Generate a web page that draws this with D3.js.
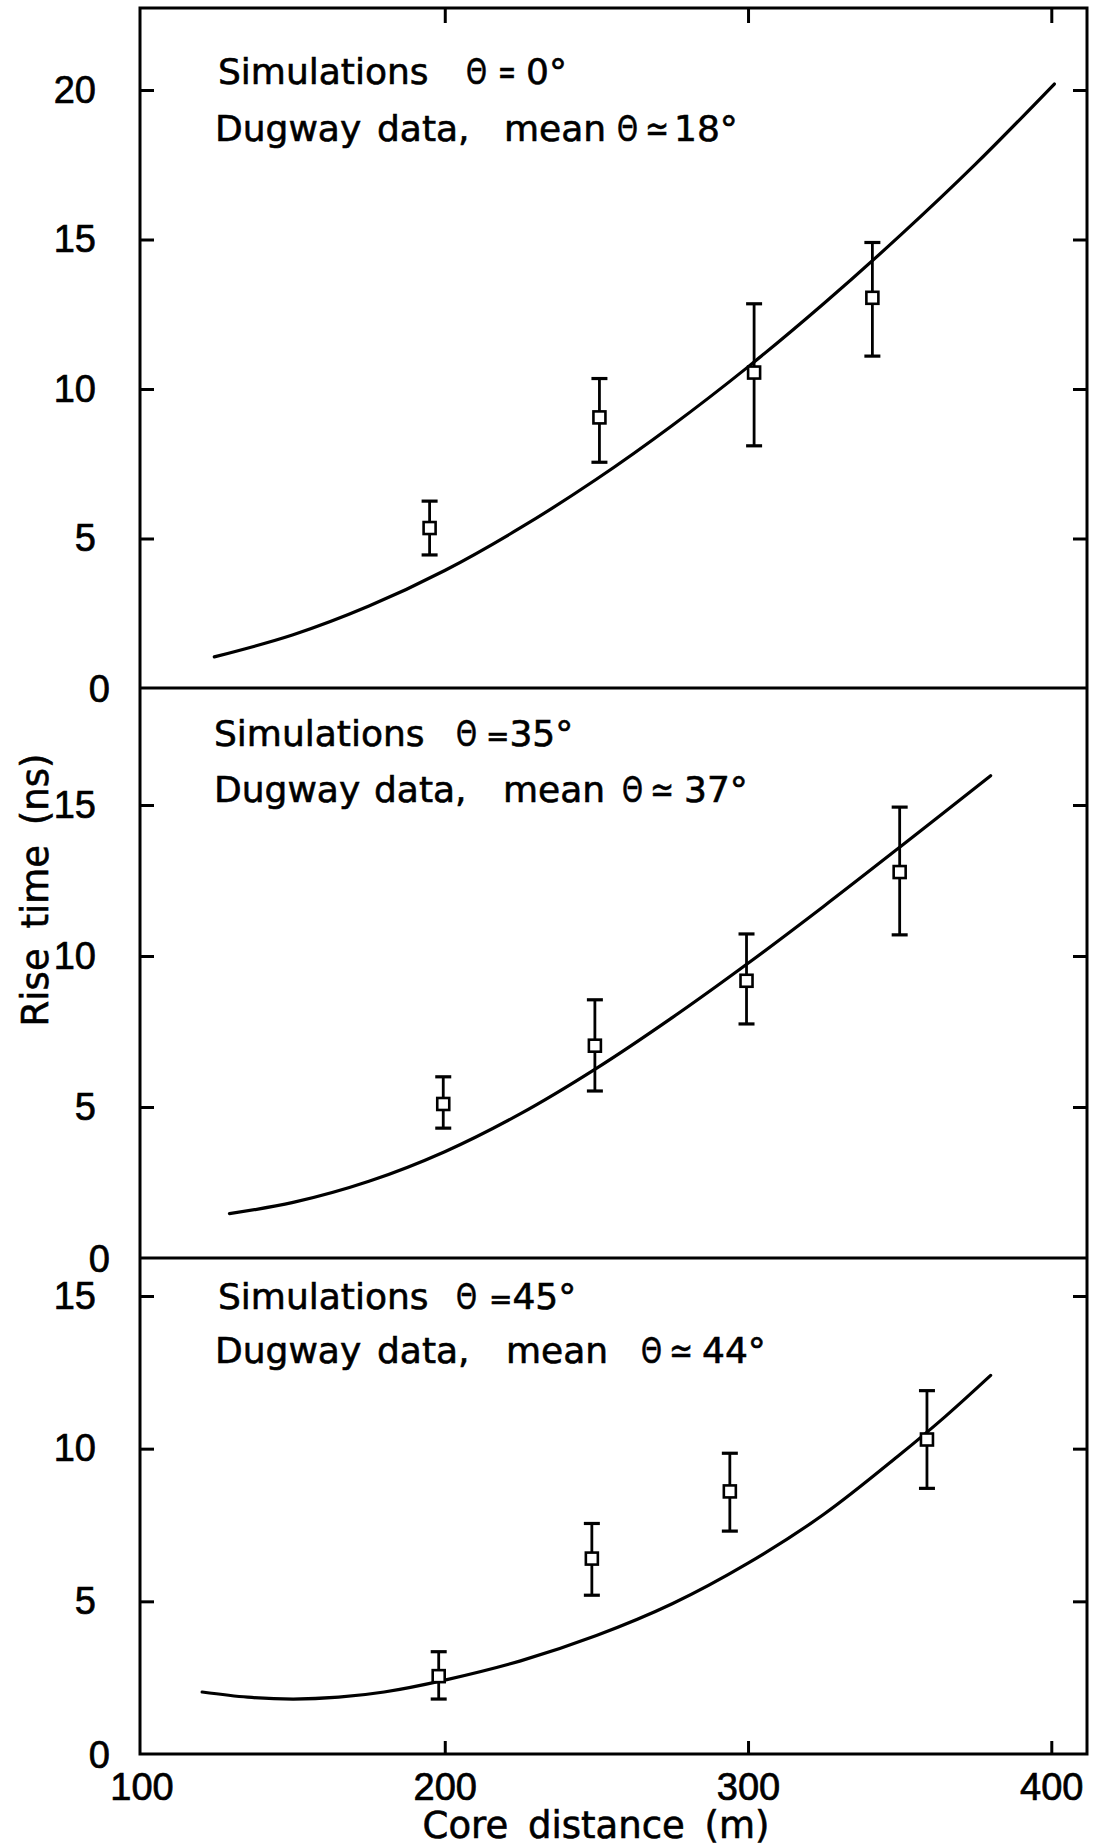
<!DOCTYPE html>
<html>
<head>
<meta charset="utf-8">
<script src="https://cdn.jsdelivr.net/npm/d3@7"></script>
<style>
  html, body { margin: 0; padding: 0; background: #fff; }
  svg { display: block; }
</style>
</head>
<body>
<svg id="chart" width="1103" height="1846"></svg>
<script>
// Core-distance axis
const xTicks = [100, 200, 300, 400];

// Panel 1: simulations at theta = 0 deg, Dugway data mean theta ~ 18 deg
const p1Dist = [195, 251, 302, 341];
const p1Rise = [5.35, 9.05, 10.55, 13.05];
const p1Low  = [4.45, 7.55, 8.1, 11.1];
const p1High = [6.25, 10.35, 12.85, 14.9];
const p1SimDist = [124, 150, 175, 200, 225, 250, 275, 300, 325, 350, 375, 401];
const p1SimRise = [1.04, 1.78, 2.74, 3.93, 5.36, 6.98, 8.78, 10.74, 12.86, 15.12, 17.52, 20.2];
const p1Ticks = [5, 10, 15, 20];

// Panel 2: simulations at theta = 35 deg, Dugway data mean theta ~ 37 deg
const p2Dist = [199.5, 249.5, 299.5, 350];
const p2Rise = [5.1, 7.03, 9.18, 12.78];
const p2Low  = [4.3, 5.53, 7.75, 10.7];
const p2High = [6.0, 8.55, 10.73, 14.93];
const p2SimDist = [129, 150, 175, 200, 225, 250, 275, 300, 325, 350, 380];
const p2SimRise = [1.47, 1.84, 2.54, 3.52, 4.78, 6.28, 7.96, 9.76, 11.65, 13.6, 15.97];
const p2Ticks = [5, 10, 15];

// Panel 3: simulations at theta = 45 deg, Dugway data mean theta ~ 44 deg
const p3Dist = [198, 248.5, 294, 359];
const p3Rise = [2.55, 6.4, 8.6, 10.3];
const p3Low  = [1.8, 5.2, 7.3, 8.7];
const p3High = [3.35, 7.55, 9.85, 11.9];
const p3SimDist = [120, 135, 150, 165, 180, 200, 225, 250, 275, 300, 325, 350, 365, 380];
const p3SimRise = [2.03, 1.86, 1.8, 1.86, 2.03, 2.42, 3.05, 3.88, 4.92, 6.25, 7.85, 9.8, 11.05, 12.4];
const p3Ticks = [5, 10, 15];

const labelFont = "'DejaVu Sans', sans-serif";
const tickFont = "'Liberation Sans', Arial, sans-serif";

const svg = d3.select("#chart");
svg.append("rect").attr("width", 1103).attr("height", 1846).attr("fill", "#fff");

const frameLeft = 140, frameRight = 1087;
const x = d3.scaleLinear().domain([100, 400]).range([141.5, 1051.3]);

// annotation pieces: [text, x, baseline, squeezed width or 0]
const panels = [
  { y: d3.scaleLinear().domain([0, 20]).range([688, 90]),
    dist: p1Dist, rise: p1Rise, low: p1Low, high: p1High,
    simDist: p1SimDist, simRise: p1SimRise, ticks: p1Ticks,
    notes: [["Simulations", 218, 84, 0], ["Θ", 466, 84, 21], ["=", 498, 84, 18], ["0°", 526, 84, 0],
            ["Dugway", 215, 141, 0], ["data,", 377, 141, 0], ["mean", 504, 141, 0],
            ["Θ", 617, 141, 21], ["≃", 645, 141, 24], ["18°", 674, 141, 0]] },
  { y: d3.scaleLinear().domain([0, 15]).range([1258, 805]),
    dist: p2Dist, rise: p2Rise, low: p2Low, high: p2High,
    simDist: p2SimDist, simRise: p2SimRise, ticks: p2Ticks,
    notes: [["Simulations", 214, 746, 0], ["Θ", 456, 746, 21], ["=|35°", 486, 746, 0],
            ["Dugway", 214, 802, 0], ["data,", 374, 802, 0], ["mean", 503, 802, 0],
            ["Θ", 622, 802, 21], ["≃", 650, 802, 24], ["37°", 684, 802, 0]] },
  { y: d3.scaleLinear().domain([0, 15]).range([1754, 1296]),
    dist: p3Dist, rise: p3Rise, low: p3Low, high: p3High,
    simDist: p3SimDist, simRise: p3SimRise, ticks: p3Ticks,
    notes: [["Simulations", 218, 1309, 0], ["Θ", 456, 1309, 21], ["=|45°", 489, 1309, 0],
            ["Dugway", 215, 1363, 0], ["data,", 377, 1363, 0], ["mean", 506, 1363, 0],
            ["Θ", 641, 1363, 21], ["≃", 669, 1363, 24], ["44°", 702, 1363, 0]] }
];

const ink = "#000";

panels.forEach(p => {
  const g = svg.append("g");

  // left axis with inward ticks and outside labels
  const leftAxis = d3.axisLeft(p.y).tickValues(p.ticks).tickSize(-14).tickPadding(44).tickFormat(d3.format("d"));
  const la = g.append("g").attr("transform", `translate(${frameLeft},0)`).call(leftAxis);
  la.select(".domain").remove();
  la.selectAll(".tick line").attr("stroke", ink).attr("stroke-width", 3);
  la.selectAll(".tick text").attr("font-family", tickFont).attr("font-size", 38).attr("fill", ink)
    .attr("stroke", ink).attr("stroke-width", 0.7);

  // right axis, inward ticks only
  const rightAxis = d3.axisRight(p.y).tickValues(p.ticks).tickSize(-14).tickFormat("");
  const ra = g.append("g").attr("transform", `translate(${frameRight},0)`).call(rightAxis);
  ra.select(".domain").remove();
  ra.selectAll(".tick line").attr("stroke", ink).attr("stroke-width", 3);

  // zero label at the panel base
  g.append("text").attr("x", 110).attr("y", p.y(0)).attr("dy", "0.36em")
    .attr("text-anchor", "end").attr("font-family", tickFont).attr("font-size", 38)
    .attr("fill", ink).attr("stroke", ink).attr("stroke-width", 0.7).text("0");

  // simulated rise-time curve
  const line = d3.line().x(d => x(d[0])).y(d => p.y(d[1])).curve(d3.curveCatmullRom.alpha(0.5));
  g.append("path").datum(d3.zip(p.simDist, p.simRise)).attr("d", line)
    .attr("fill", "none").attr("stroke", ink).attr("stroke-width", 3.2)
    .attr("stroke-linecap", "round");

  // measured points with error bars
  const pts = p.dist.map((d, k) => ({ d, r: p.rise[k], lo: p.low[k], hi: p.high[k] }));
  const eb = g.selectAll(".eb").data(pts).enter().append("g");
  eb.append("line").attr("x1", d => x(d.d)).attr("x2", d => x(d.d))
    .attr("y1", d => p.y(d.lo)).attr("y2", d => p.y(d.hi))
    .attr("stroke", ink).attr("stroke-width", 2.8);
  ["lo", "hi"].forEach(k => {
    eb.append("line").attr("x1", d => x(d.d) - 8).attr("x2", d => x(d.d) + 8)
      .attr("y1", d => p.y(d[k])).attr("y2", d => p.y(d[k]))
      .attr("stroke", ink).attr("stroke-width", 3.2);
  });
  eb.append("rect").attr("x", d => x(d.d) - 6).attr("y", d => p.y(d.r) - 6)
    .attr("width", 12).attr("height", 12).attr("fill", "#fff")
    .attr("stroke", ink).attr("stroke-width", 2.6);

  // panel annotation; "a|b" draws a small "a" followed directly by "b"
  p.notes.forEach(([t, tx, ty, w]) => {
    const el = g.append("text").attr("x", tx).attr("y", ty).attr("font-family", labelFont)
      .attr("font-size", 36).attr("fill", ink).attr("stroke", ink).attr("stroke-width", 0.6);
    if (t.includes("|")) {
      const [a, b] = t.split("|");
      el.append("tspan").attr("font-size", 28).text(a);
      el.append("tspan").text(b);
    } else {
      el.text(t);
    }
    if (w) el.attr("textLength", w).attr("lengthAdjust", "spacingAndGlyphs");
  });
});

// bottom core-distance axis, ticks pointing up
const bottomAxis = d3.axisBottom(x).tickValues(xTicks).tickSize(-13).tickPadding(19).tickFormat(d3.format("d"));
const ba = svg.append("g").attr("transform", "translate(0,1754)").call(bottomAxis);
ba.select(".domain").remove();
ba.selectAll(".tick line").attr("stroke", ink).attr("stroke-width", 3);
ba.selectAll(".tick text").attr("font-family", tickFont).attr("font-size", 38).attr("fill", ink)
  .attr("stroke", ink).attr("stroke-width", 0.7);
ba.selectAll(".tick").filter(d => d === 100).select("line").remove();

// top axis, ticks pointing down
const topAxis = d3.axisTop(x).tickValues([200, 300, 400]).tickSize(-15).tickFormat("");
const ta = svg.append("g").attr("transform", "translate(0,8)").call(topAxis);
ta.select(".domain").remove();
ta.selectAll(".tick line").attr("stroke", ink).attr("stroke-width", 3);

// frame and panel separators
svg.append("rect").attr("x", frameLeft).attr("y", 8)
  .attr("width", frameRight - frameLeft).attr("height", 1754 - 8)
  .attr("fill", "none").attr("stroke", ink).attr("stroke-width", 3);
[688, 1258].forEach(yy => {
  svg.append("line").attr("x1", frameLeft).attr("x2", frameRight).attr("y1", yy).attr("y2", yy)
    .attr("stroke", ink).attr("stroke-width", 3);
});

// axis titles
svg.append("text").attr("x", 596).attr("y", 1838).attr("text-anchor", "middle")
  .attr("font-family", labelFont).attr("font-size", 37).attr("word-spacing", 8)
  .attr("fill", ink).attr("stroke", ink).attr("stroke-width", 0.6).text("Core distance (m)");
svg.append("text").attr("transform", "translate(48,890) rotate(-90)").attr("text-anchor", "middle")
  .attr("font-family", labelFont).attr("font-size", 37).attr("word-spacing", 8)
  .attr("fill", ink).attr("stroke", ink).attr("stroke-width", 0.6).text("Rise time (ns)");
</script>
</body>
</html>
